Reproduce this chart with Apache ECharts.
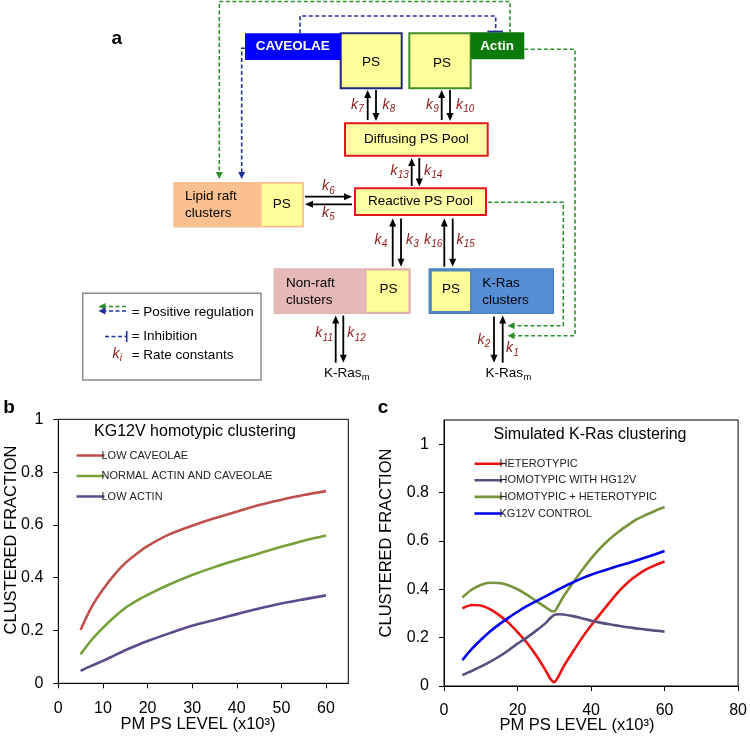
<!DOCTYPE html>
<html><head><meta charset="utf-8">
<script src="https://cdn.jsdelivr.net/npm/echarts@6/dist/echarts.min.js"></script>
<style>html,body{margin:0;padding:0;background:#fff}#chart{width:750px;height:737px}</style>
</head><body><div id="chart"></div>
<script>
const FONT = '"Liberation Sans", Arial, sans-serif';

// ---------- Panel b data ----------
const bX = [5, 7.5, 10, 12.5, 15, 17.5, 20, 25, 30, 35, 40, 45, 50, 55, 60];
const bLowCaveolae = [0.202, 0.29, 0.355, 0.41, 0.455, 0.49, 0.52, 0.565, 0.597, 0.625, 0.65, 0.675, 0.695, 0.713, 0.728];
const bNormal = [0.11, 0.165, 0.21, 0.25, 0.285, 0.312, 0.335, 0.375, 0.41, 0.44, 0.467, 0.492, 0.517, 0.54, 0.56];
const bLowActin = [0.047, 0.067, 0.085, 0.105, 0.125, 0.143, 0.16, 0.19, 0.218, 0.24, 0.262, 0.283, 0.302, 0.318, 0.333];
const bNames = ['LOW CAVEOLAE', 'NORMAL ACTIN AND CAVEOLAE', 'LOW ACTIN'];
const bXTicks = [0, 10, 20, 30, 40, 50, 60];
const bYTicks = [0, 0.2, 0.4, 0.6, 0.8, 1];

// ---------- Panel c data ----------
const cX = [5, 7.5, 10, 12.5, 15, 17.5, 20, 22.5, 25, 27.5, 29, 30, 31, 32.5, 35, 37.5, 40, 42.5, 45, 47.5, 50, 52.5, 55, 57.5, 60];
const cHetero = [0.321, 0.335, 0.333, 0.318, 0.293, 0.262, 0.223, 0.18, 0.128, 0.068, 0.028, 0.016, 0.036, 0.08, 0.14, 0.198, 0.25, 0.298, 0.345, 0.39, 0.428, 0.458, 0.482, 0.5, 0.515];
const cHomoHG = [0.045, 0.062, 0.08, 0.1, 0.122, 0.147, 0.175, 0.2, 0.228, 0.258, 0.282, 0.294, 0.297, 0.296, 0.289, 0.28, 0.27, 0.262, 0.255, 0.249, 0.243, 0.238, 0.233, 0.229, 0.225];
const cHomoHet = [0.366, 0.398, 0.418, 0.427, 0.426, 0.417, 0.4, 0.378, 0.352, 0.327, 0.312, 0.309, 0.33, 0.37, 0.425, 0.478, 0.527, 0.57, 0.607, 0.638, 0.665, 0.69, 0.708, 0.725, 0.74];
const cControl = [0.107, 0.152, 0.19, 0.225, 0.255, 0.282, 0.307, 0.33, 0.35, 0.37, 0.382, 0.39, 0.398, 0.41, 0.428, 0.445, 0.46, 0.473, 0.485, 0.497, 0.508, 0.52, 0.532, 0.545, 0.558];
const cNames = ['HETEROTYPIC', 'HOMOTYPIC WITH HG12V', 'HOMOTYPIC + HETEROTYPIC', 'KG12V CONTROL'];
const cXTicks = [0, 20, 40, 60, 80];
const cYTicks = [0, 0.2, 0.4, 0.6, 0.8, 1];

// ---------- helpers ----------
const mctx = document.createElement('canvas').getContext('2d');
function tw(t, size, style, weight) { mctx.font = (style || 'normal') + ' ' + (weight || 'normal') + ' ' + size + 'px ' + FONT; return mctx.measureText(t).width; }
function txt(x, y, text, o) {
  o = o || {};
  return { type: 'text', x: x, y: y, rotation: o.rotation || 0, silent: true,
    style: { text: text, fontSize: o.size || 13.5, fontFamily: FONT, fontWeight: o.weight || 'normal', fontStyle: o.style || 'normal',
      fill: o.color || '#000', align: o.align || 'center', verticalAlign: o.va || 'middle' } };
}
function subLabel(x, y, main, sub, o) {
  const size = o.size, ss = o.subSize;
  const w1 = tw(main, size, o.style), w2 = tw(sub, ss, o.style);
  const x0 = o.align === 'right' ? x - w1 - w2 : (o.align === 'center' ? x - (w1 + w2) / 2 : x);
  return [
    txt(x0, y, main, { size: size, style: o.style, color: o.color, align: 'left' }),
    txt(x0 + w1 + 0.3, y + size * 0.32, sub, { size: ss, style: o.style, color: o.color, align: 'left' })
  ];
}
const KCOL = '#8b1a1a';
function kLab(x, y, n, align) { return subLabel(x, y - 2, 'k', n, { size: 14, subSize: 10, style: 'italic', color: KCOL, align: align }); }
function rect(x, y, w, h, fill, stroke, lw) {
  return { type: 'rect', silent: true, shape: { x: x, y: y, width: w, height: h }, style: { fill: fill, stroke: stroke || null, lineWidth: lw || 0 } };
}
function head(x2, y2, ux, uy, hl, hw, color) {
  const bx = x2 - ux * hl, by = y2 - uy * hl;
  return { type: 'polygon', silent: true, shape: { points: [[x2, y2], [bx - uy * hw / 2, by + ux * hw / 2], [bx + uy * hw / 2, by - ux * hw / 2]] }, style: { fill: color } };
}
function arrow(x1, y1, x2, y2) {
  const dx = x2 - x1, dy = y2 - y1, L = Math.hypot(dx, dy), ux = dx / L, uy = dy / L;
  const hl = 8, hw = 7;
  return [
    { type: 'line', silent: true, shape: { x1: x1, y1: y1, x2: x2 - ux * hl * 0.8, y2: y2 - uy * hl * 0.8 }, style: { stroke: '#000', lineWidth: 1.8 } },
    head(x2, y2, ux, uy, hl, hw, '#000')
  ];
}
function dashArrow(pts, color) {
  const n = pts.length, x2 = pts[n - 1][0], y2 = pts[n - 1][1], x1 = pts[n - 2][0], y1 = pts[n - 2][1];
  const dx = x2 - x1, dy = y2 - y1, L = Math.hypot(dx, dy), ux = dx / L, uy = dy / L;
  const hl = 7, hw = 7;
  const lp = pts.slice(0, n - 1).concat([[x2 - ux * hl * 0.8, y2 - uy * hl * 0.8]]);
  return [
    { type: 'polyline', silent: true, shape: { points: lp }, style: { stroke: color, lineWidth: 1.6, lineDash: [4, 2.5], fill: null } },
    head(x2, y2, ux, uy, hl, hw, color)
  ];
}
function dashLine(pts, color) {
  return { type: 'polyline', silent: true, shape: { points: pts }, style: { stroke: color, lineWidth: 1.6, lineDash: [4, 2.5], fill: null } };
}
function solid(x1, y1, x2, y2, color, w) {
  return { type: 'line', silent: true, shape: { x1: x1, y1: y1, x2: x2, y2: y2 }, style: { stroke: color, lineWidth: w } };
}

const YEL = '#ffff99', GREEN = '#2f8f2f', NAVY = '#23309a';
let g = [];
// panel labels
g.push(txt(116.7, 38.5, 'a', { size: 19, weight: 'bold' }));
g.push(txt(9, 408, 'b', { size: 19, weight: 'bold' }));
g.push(txt(383, 408, 'c', { size: 19, weight: 'bold' }));

// --- diagram boxes ---
g.push(rect(340.7, 33.3, 61, 55, YEL, '#1c2a7d', 2));
g.push(rect(245, 33.3, 95.7, 26.7, '#0000ff'));
g.push(txt(292.7, 46.7, 'CAVEOLAE', { size: 13.5, weight: 'bold', color: '#fff' }));
g.push(txt(371, 62.5, 'PS'));
g.push(rect(409.3, 33.3, 61.4, 55, YEL, '#3f8f2a', 2));
g.push(rect(470.7, 32.3, 53.6, 27, '#0a7a0a'));
g.push(txt(497, 46.7, 'Actin', { size: 13.5, weight: 'bold', color: '#fff' }));
g.push(txt(442, 63, 'PS'));
g.push(rect(345, 123.3, 142.7, 32.4, '#ffffa6', '#e8141b', 2));
g.push(txt(416.3, 139.5, 'Diffusing PS Pool'));
g.push(rect(355, 188.3, 131, 26.7, '#ffffa6', '#e8141b', 2));
g.push(txt(420.5, 201.7, 'Reactive PS Pool'));
g.push(rect(174, 182.7, 129.3, 44, '#fac090', '#f7bd8e', 1.5));
g.push(rect(261.7, 183.7, 40.6, 42, YEL));
g.push(txt(185, 196.7, 'Lipid raft', { align: 'left' }));
g.push(txt(185, 213.3, 'clusters', { align: 'left' }));
g.push(txt(281.7, 204.5, 'PS'));
g.push(rect(274.3, 269, 135.7, 44.3, '#e6b9b8', '#e3b3b2', 1.5));
g.push(rect(366, 270, 43, 42.3, YEL, '#dcaaa8', 1));
g.push(txt(286, 283.3, 'Non-raft', { align: 'left' }));
g.push(txt(286, 300, 'clusters', { align: 'left' }));
g.push(txt(388.5, 289.5, 'PS'));
g.push(rect(429.3, 269, 124, 44.3, '#558ed5', '#4f81bd', 1.5));
g.push(rect(431, 270.7, 39.7, 41, YEL, '#4f81bd', 1.5));
g.push(txt(451, 289.5, 'PS'));
g.push(txt(482.3, 283.3, 'K-Ras', { align: 'left' }));
g.push(txt(482.3, 300, 'clusters', { align: 'left' }));

// --- solid arrows ---
g = g.concat(arrow(367.7, 120, 367.7, 90), arrow(376, 90, 376, 121));
g = g.concat(arrow(441.7, 120, 441.7, 90), arrow(450, 90, 450, 121));
g = g.concat(arrow(411.7, 186, 411.7, 158), arrow(419.3, 158, 419.3, 186.5));
g = g.concat(arrow(305, 196.7, 352, 196.7), arrow(352, 204.3, 305, 204.3));
g = g.concat(arrow(392.7, 266.7, 392.7, 218.5), arrow(401, 218.5, 401, 266.7));
g = g.concat(arrow(444.3, 266.7, 444.3, 218.5), arrow(452.7, 218.5, 452.7, 266.7));
g = g.concat(arrow(335.7, 362.7, 335.7, 315.5), arrow(343.3, 315.5, 343.3, 362.7));
g = g.concat(arrow(494, 316.5, 494, 362.7), arrow(502.7, 362.7, 502.7, 315.5));

// --- k labels ---
g = g.concat(kLab(363.5, 107, '7', 'right'), kLab(382.5, 107, '8', 'left'));
g = g.concat(kLab(438.5, 107, '9', 'right'), kLab(456, 107, '10', 'left'));
g = g.concat(kLab(408.5, 173, '13', 'right'), kLab(424, 173, '14', 'left'));
g = g.concat(kLab(328.3, 188.5, '6', 'center'), kLab(328.3, 215, '5', 'center'));
g = g.concat(kLab(387, 242, '4', 'right'), kLab(406, 242, '3', 'left'));
g = g.concat(kLab(442, 242, '16', 'right'), kLab(456.5, 242, '15', 'left'));
g = g.concat(kLab(332.7, 335.5, '11', 'right'), kLab(347.3, 335.5, '12', 'left'));
g = g.concat(kLab(490, 342, '2', 'right'), kLab(506, 350.5, '1', 'left'));
g = g.concat(subLabel(346.7, 373, 'K-Ras', 'm', { size: 13.5, subSize: 9.5, color: '#000', align: 'center' }));
g = g.concat(subLabel(508.3, 373, 'K-Ras', 'm', { size: 13.5, subSize: 9.5, color: '#000', align: 'center' }));

// --- regulation lines ---
g = g.concat(dashArrow([[510, 33.3], [510, 1.5], [219.3, 1.5], [219.3, 179]], GREEN));
g.push(dashLine([[300, 33.3], [300, 16], [495.7, 16], [495.7, 31.5]], NAVY));
g.push(solid(487.3, 31.5, 503, 31.5, NAVY, 1.8));
g = g.concat(dashArrow([[245, 48.3], [241.7, 48.3], [241.7, 179]], NAVY));
g = g.concat(dashArrow([[524.3, 49.3], [575, 49.3], [575, 335.7], [507.5, 335.7]], GREEN));
g = g.concat(dashArrow([[488, 202.3], [563.3, 202.3], [563.3, 325.7], [507.5, 325.7]], GREEN));

// --- diagram legend ---
g.push(rect(82.7, 293.3, 178.3, 86.7, null, '#8c8c8c', 1.5));
g = g.concat(dashArrow([[126, 306.5], [98.5, 306.5]], GREEN));
g = g.concat(dashArrow([[126, 311], [98.5, 311]], NAVY));
g.push(txt(131.7, 312, '= Positive regulation', { align: 'left' }));
g.push(dashLine([[105, 336.5], [126.5, 336.5]], NAVY));
g.push(solid(126.7, 331, 126.7, 342, NAVY, 1.6));
g.push(txt(131.7, 336, '= Inhibition', { align: 'left' }));
g = g.concat(subLabel(117, 354, 'k', 'i', { size: 14, subSize: 10, style: 'italic', color: KCOL, align: 'center' }));
g.push(txt(131.7, 355, '= Rate constants', { align: 'left' }));

// --- chart texts ---
g.push(txt(195, 431.7, 'KG12V homotypic clustering', { size: 16 }));
g.push(txt(590, 435, 'Simulated K-Ras clustering', { size: 16 }));
g.push(txt(198, 724, 'PM PS LEVEL (x10³)', { size: 16.5 }));
g.push(txt(577, 725, 'PM PS LEVEL (x10³)', { size: 16.5 }));
g.push(txt(11, 540, 'CLUSTERED FRACTION', { size: 16.5, rotation: Math.PI / 2 }));
g.push(txt(386, 543, 'CLUSTERED FRACTION', { size: 16.5, rotation: Math.PI / 2 }));

function axisCommon(ticks, margin) {
  return {
    axisLine: { show: true, onZero: false, lineStyle: { color: '#000', width: 1 } },
    axisTick: { show: true, inside: false, length: 5, lineStyle: { color: '#000' }, customValues: ticks },
    axisLabel: { fontSize: 16, color: '#000', fontFamily: FONT, margin: margin, customValues: ticks },
    splitLine: { show: false }
  };
}
function lineSeries(name, xs, ys, xi, color, smooth) {
  return { type: 'line', name: name, xAxisIndex: xi, yAxisIndex: xi, data: xs.map((x, i) => [x, ys[i]]),
    symbol: 'none', showSymbol: false, smooth: smooth, lineStyle: { color: color, width: 2.6 }, itemStyle: { color: color }, z: 3 };
}
// thin line legend icon (invisible zero-height sub-paths keep the 28x12 box)
const LEG_ICON = 'path://M0,0L28,0ZM0,4.7L28,4.7L28,7.3L0,7.3ZM0,12L28,12Z';

const chart = echarts.init(document.getElementById('chart'), null, { renderer: 'canvas' });
chart.setOption({
  animation: false,
  backgroundColor: '#fff',
  textStyle: { fontFamily: FONT },
  grid: [
    { left: 58.3, top: 419.3, width: 290, height: 264, show: true, borderColor: '#000', borderWidth: 1, backgroundColor: 'transparent' },
    { left: 444, top: 420, width: 296.7, height: 266, show: true, borderColor: '#000', borderWidth: 1, backgroundColor: 'transparent' }
  ],
  xAxis: [
    Object.assign({ type: 'value', gridIndex: 0, min: 0, max: 65, interval: 10 }, axisCommon(bXTicks, 17)),
    Object.assign({ type: 'value', gridIndex: 1, min: 0, max: 80, interval: 20 }, axisCommon(cXTicks, 17))
  ],
  yAxis: [
    Object.assign({ type: 'value', gridIndex: 0, min: 0, max: 1, interval: 0.2 }, axisCommon(bYTicks, 15)),
    Object.assign({ type: 'value', gridIndex: 1, min: 0, max: 1.1, interval: 0.2 }, axisCommon(cYTicks, 15))
  ],
  legend: [
    { data: bNames, orient: 'vertical', left: 71.5, top: 444.5, itemWidth: 28, itemHeight: 12, itemGap: 8.5, selectedMode: false, icon: LEG_ICON,
      textStyle: { fontSize: 11, color: '#222', fontFamily: FONT, padding: [0, 0, 0, -8] } },
    { data: cNames, orient: 'vertical', left: 469.5, top: 452.7, itemWidth: 28, itemHeight: 12, itemGap: 4.6, selectedMode: false, icon: LEG_ICON,
      textStyle: { fontSize: 11, color: '#222', fontFamily: FONT, padding: [0, 0, 0, -8] } }
  ],
  series: [
    lineSeries(bNames[0], bX, bLowCaveolae, 0, '#c0504d', 0.3),
    lineSeries(bNames[1], bX, bNormal, 0, '#77a03a', 0.3),
    lineSeries(bNames[2], bX, bLowActin, 0, '#5c4a8c', 0.3),
    lineSeries(cNames[0], cX, cHetero, 1, '#ee1111', 0.25),
    lineSeries(cNames[1], cX, cHomoHG, 1, '#5b4e7e', 0.25),
    lineSeries(cNames[2], cX, cHomoHet, 1, '#77933c', 0.25),
    lineSeries(cNames[3], cX, cControl, 1, '#0000ee', 0.25)
  ],
  graphic: g
});
</script>
</body></html>
